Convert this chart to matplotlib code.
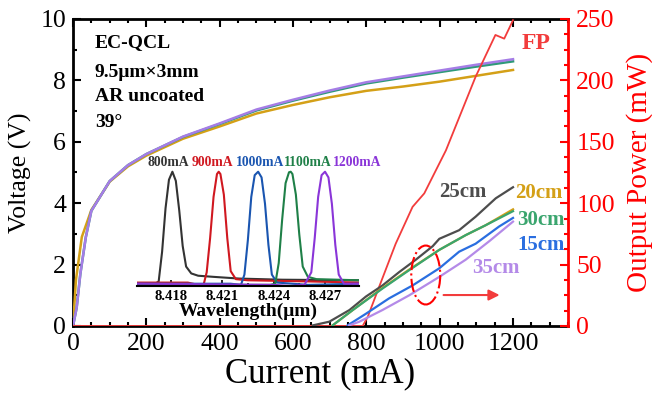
import matplotlib
matplotlib.use('Agg')
import matplotlib.pyplot as plt
from matplotlib.patches import Ellipse
from matplotlib.ticker import MultipleLocator

plt.rcParams['font.family'] = ['Liberation Serif', 'DejaVu Serif']

# ---------------- data ----------------
# Voltage vs current (left axis)
cur_v_gold = [0, 8, 24, 50, 100, 150, 200, 300, 400, 500, 600, 700, 800, 900, 1000, 1100, 1200]
v_gold = [0, 1.5, 2.9, 3.78, 4.7, 5.2, 5.55, 6.1, 6.5, 6.92, 7.2, 7.45, 7.66, 7.8, 7.96, 8.15, 8.34]
cur_v = [0, 10, 20, 35, 50, 100, 150, 200, 300, 400, 500, 600, 700, 800, 900, 1000, 1100, 1200]
v_purple = [0, 0.6, 1.7, 2.9, 3.75, 4.72, 5.24, 5.6, 6.17, 6.6, 7.05, 7.37, 7.67, 7.94, 8.13, 8.32, 8.51, 8.69]
v_green = [0, 0.6, 1.7, 2.9, 3.75, 4.72, 5.24, 5.6, 6.16, 6.58, 7.02, 7.34, 7.63, 7.9, 8.09, 8.27, 8.45, 8.62]

# Output power vs current (right axis)
cur_25 = [654, 699, 754, 799, 844, 890, 935, 981, 999, 1053, 1098, 1153, 1200]
p_25 = [0.5, 3.5, 13, 24, 33, 44, 54, 65, 71, 78, 89, 104, 113]
cur_20 = [708, 763, 844, 917, 999, 1071, 1125, 1200]
p_20 = [0.5, 13, 31, 46, 62, 74, 82, 95]
cur_30 = [708, 763, 844, 917, 999, 1071, 1125, 1200]
p_30 = [0.5, 13, 30.5, 45.5, 62, 74, 82, 93.5]
cur_15 = [749, 799, 862, 926, 999, 1053, 1098, 1162, 1200]
p_15 = [0.5, 10, 22.5, 33, 47, 60.5, 67, 81, 88]
cur_35 = [753, 781, 844, 917, 999, 1071, 1135, 1200]
p_35 = [0.5, 3.5, 13, 25, 40, 54, 69, 85]
cur_fp = [0, 790, 804, 835, 880, 926, 958, 990, 1017, 1098, 1152, 1176, 1200]
p_fp = [0, 0, 7.6, 32, 67, 97, 108, 127, 143, 203, 237, 234, 249]

# Inset spectra (wavelength in um, normalised intensity)
wl_800 = [8.4160, 8.4170, 8.4173, 8.4175, 8.4177, 8.4179, 8.4181, 8.4183, 8.4185, 8.4187, 8.4189, 8.4192, 8.4196, 8.4205, 8.4220, 8.4245, 8.4290]
in_800 = [0.02, 0.01, 0.04, 0.3, 0.68, 0.93, 1.0, 0.92, 0.66, 0.35, 0.17, 0.11, 0.09, 0.08, 0.065, 0.055, 0.05]
wl_900 = [8.4160, 8.4190, 8.4199, 8.4201, 8.4203, 8.4205, 8.4207, 8.4208, 8.4209, 8.4211, 8.4213, 8.4215, 8.4218, 8.4225, 8.4260, 8.4290]
in_900 = [0.03, 0.03, 0.0, 0.12, 0.42, 0.78, 0.98, 1.0, 0.98, 0.8, 0.42, 0.13, 0.06, 0.05, 0.04, 0.03]
wl_1000 = [8.4160, 8.4215, 8.4221, 8.4223, 8.4225, 8.4227, 8.4229, 8.4231, 8.4233, 8.4235, 8.4237, 8.4239, 8.4242, 8.4260, 8.4290]
in_1000 = [0.02, 0.02, 0.01, 0.1, 0.4, 0.78, 0.97, 1.0, 0.95, 0.72, 0.36, 0.1, 0.03, 0.01, 0.02]
wl_1100 = [8.4160, 8.4238, 8.4241, 8.4243, 8.4245, 8.4247, 8.4249, 8.4250, 8.4251, 8.4253, 8.4255, 8.4257, 8.4260, 8.4265, 8.4290]
in_1100 = [0.01, 0.01, 0.02, 0.2, 0.58, 0.9, 0.995, 1.0, 0.98, 0.8, 0.45, 0.17, 0.08, 0.06, 0.05]
wl_1200 = [8.4160, 8.4240, 8.4250, 8.4258, 8.4262, 8.4264, 8.4266, 8.4268, 8.4270, 8.4272, 8.4274, 8.4276, 8.4278, 8.4281, 8.4290]
in_1200 = [0.02, 0.01, 0.0, 0.01, 0.12, 0.42, 0.78, 0.97, 1.0, 0.95, 0.72, 0.36, 0.1, 0.02, 0.02]

spec_labels = ['800mA', '900mA', '1000mA', '1100mA', '1200mA']
inset_ticks = [8.418, 8.421, 8.424, 8.427]
info_lines = ['EC-QCL', '9.5μm×3mm', 'AR uncoated', '39°']

# ---------------- colours ----------------
c_gray = '#4d4d4d'
c_gold = '#d4a017'
c_green = '#3aa56e'
c_blue = '#2a6ee0'
c_lpurple = '#b48ae8'
c_vpurple = '#a57de6'
c_vgreen = '#2e9a78'
c_fp = '#f23c3c'

# ---------------- figure ----------------
fig = plt.figure(figsize=(6.52, 3.99), dpi=100)
ax = fig.add_axes([0.1120, 0.1830, 0.7592, 0.7694])
ax2 = ax.twinx()

ax.plot(cur_v_gold, v_gold, color=c_gold, lw=1.8, zorder=3)
ax.plot(cur_v, v_green, color=c_vgreen, lw=1.8, zorder=3)
ax.plot(cur_v, v_purple, color=c_vpurple, lw=1.8, zorder=4)

ax.set_xlim(0, 1350)
ax.set_ylim(0, 10)
ax.xaxis.set_major_locator(MultipleLocator(200))
ax.xaxis.set_minor_locator(MultipleLocator(50))
ax.yaxis.set_major_locator(MultipleLocator(2))
ax.yaxis.set_minor_locator(MultipleLocator(1))
ax.tick_params(axis='both', which='both', direction='in', top=True, right=False,
               width=1.5, labelsize=18.5)
ax.tick_params(axis='both', which='major', length=6)
ax.tick_params(axis='both', which='minor', length=3)
ax.tick_params(axis='x', pad=5)
ax.tick_params(axis='y', pad=5)
for s in ['left', 'top', 'bottom']:
    ax.spines[s].set_linewidth(2)
ax.spines['right'].set_visible(False)
ax.set_xlabel('Current (mA)', fontsize=25, labelpad=2)
ax.set_ylabel('Voltage (V)', fontsize=18.5, labelpad=6)

# right axis
ax2.plot(cur_fp, p_fp, color=c_fp, lw=1.3, zorder=2)
ax2.plot(cur_25, p_25, color=c_gray, lw=1.6)
ax2.plot(cur_20, p_20, color=c_gold, lw=1.6)
ax2.plot(cur_30, p_30, color=c_green, lw=1.6)
ax2.plot(cur_15, p_15, color=c_blue, lw=1.6)
ax2.plot(cur_35, p_35, color=c_lpurple, lw=1.6)
ax2.set_ylim(0, 250)
ax2.yaxis.set_major_locator(MultipleLocator(50))
ax2.yaxis.set_minor_locator(MultipleLocator(12.5))
ax2.tick_params(axis='y', which='both', direction='in', colors='red', width=1.5,
                labelsize=18.5, pad=6)
ax2.tick_params(axis='y', which='major', length=6)
ax2.tick_params(axis='y', which='minor', length=3)
ax2.spines['right'].set_color('red')
ax2.spines['right'].set_linewidth(2)
for s in ['left', 'top', 'bottom']:
    ax2.spines[s].set_visible(False)
ax2.set_ylabel('Output Power (mW)', fontsize=21, color='red', labelpad=8)

# curve labels
ax2.text(1064, 109, '25cm', color=c_gray, fontsize=15, fontweight='bold', ha='center', va='center')
ax2.text(1207, 108, '20cm', color=c_gold, fontsize=15, fontweight='bold', ha='left', va='center')
ax2.text(1210, 86, '30cm', color=c_green, fontsize=15, fontweight='bold', ha='left', va='center')
ax2.text(1213, 66, '15cm', color=c_blue, fontsize=15, fontweight='bold', ha='left', va='center')
ax2.text(1154, 47, '35cm', color=c_lpurple, fontsize=15, fontweight='bold', ha='center', va='center')
ax2.text(1262, 230, 'FP', color=c_fp, fontsize=17, fontweight='bold', ha='center', va='center')

# ellipse and arrow
ell = Ellipse((962, 41.5), width=79, height=48, fill=False, edgecolor='red',
              linestyle='-.', lw=1.5, zorder=5)
ax2.add_patch(ell)
ax2.annotate('', xy=(1171, 25.2), xytext=(1003, 25.2),
             arrowprops=dict(arrowstyle='-|>', color=c_fp, lw=1.5, mutation_scale=16))

# info text
for txt, yy in zip(info_lines, [0.922, 0.827, 0.746, 0.664]):
    ax.text(0.044, yy, txt, transform=ax.transAxes, fontsize=14, fontweight='bold',
            va='center', ha='left')

# ---------------- inset ----------------
axin = fig.add_axes([0.2097, 1 - 286 / 399, 0.3414, 120 / 399])
axin.patch.set_alpha(0)
spec = [(wl_800, in_800, '#333333'), (wl_900, in_900, '#d01820'),
        (wl_1000, in_1000, '#1a55b0'), (wl_1100, in_1100, '#1f8048'),
        (wl_1200, in_1200, '#8a35d8')]
for wl, it, c in spec:
    axin.plot(wl, it, color=c, lw=1.5)
axin.set_xlim(8.41602, 8.4290)
axin.set_ylim(0, 1.05)
for s in ['left', 'right', 'top']:
    axin.spines[s].set_visible(False)
axin.spines['bottom'].set_linewidth(1.5)
axin.set_yticks([])
axin.set_xticks(inset_ticks)
axin.set_xticklabels([f'{t:.3f}' for t in inset_ticks], fontweight='bold', fontsize=10.5)
axin.xaxis.set_minor_locator(MultipleLocator(0.0015))
axin.tick_params(axis='x', which='both', direction='in', width=1.2, pad=3)
axin.tick_params(axis='x', which='major', length=4)
axin.tick_params(axis='x', which='minor', length=2)
axin.set_xlabel('Wavelength(μm)', fontsize=14, fontweight='bold', labelpad=0)

label_x = [8.41784, 8.42041, 8.42321, 8.42601, 8.42887]
for lab, lx, (_, _, c) in zip(spec_labels, label_x, spec):
    axin.text(lx, 1.08, lab, color=c, fontsize=9.8, fontweight='bold',
              ha='center', va='center', clip_on=False)

fig.savefig('out.png', dpi=100)
